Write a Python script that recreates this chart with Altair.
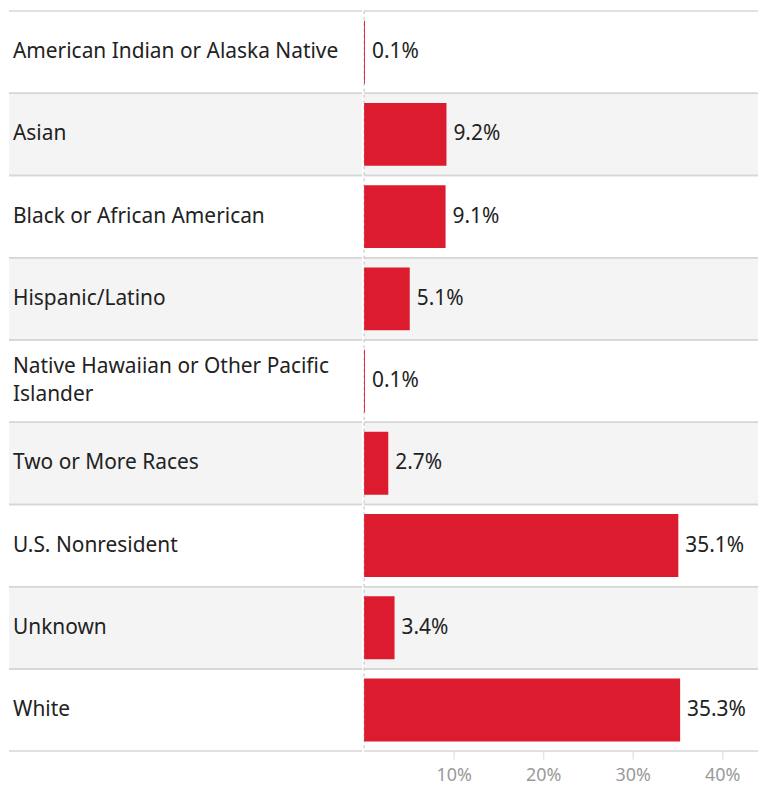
import altair as alt
import pandas as pd

categories = [
    "American Indian or Alaska Native",
    "Asian",
    "Black or African American",
    "Hispanic/Latino",
    "Native Hawaiian or Other Pacific Islander",
    "Two or More Races",
    "U.S. Nonresident",
    "Unknown",
    "White",
]
values = [0.1, 9.2, 9.1, 5.1, 0.1, 2.7, 35.1, 3.4, 35.3]
tick_values = [10, 20, 30, 40]

FONT = "Noto Sans"
LEFT_W = 355
RIGHT_W = 396
H = 744
BAR_RED = "#DC1C2E"
BAND_GRAY = "#F4F4F4"
SEP = "#D6D6D6"
TEXT = "#222222"
LINE_H = 28

df = pd.DataFrame({"category": categories, "value": values})
df["row"] = range(len(df))
df["display"] = df["category"].str.replace("Pacific Islander", "Pacific\nIslander")
df["nlines"] = df["display"].str.count("\n") + 1
df["label"] = df["value"].map(lambda v: f"{v:.1f}%")

ysc = alt.Scale(domain=categories, paddingInner=0, paddingOuter=0)
y_enc = alt.Y("category:N", sort=categories, scale=ysc, axis=None)

base = alt.Chart(df)

band_color = alt.condition("datum.row % 2 == 1", alt.value(BAND_GRAY), alt.value("white"))


def bands(width):
    return base.mark_rect().encode(
        y=y_enc,
        x=alt.value(0),
        x2=alt.value(width),
        color=band_color,
    )


def separators():
    top = base.mark_rule(color=SEP, strokeWidth=1.5).encode(
        y=alt.Y("category:N", sort=categories, scale=ysc, axis=None, bandPosition=0)
    )
    bottom = base.mark_rule(color=SEP, strokeWidth=1.5).encode(
        y=alt.Y("category:N", sort=categories, scale=ysc, axis=None, bandPosition=1)
    )
    return top + bottom


def label_layer(n, dy):
    return base.transform_filter(f"datum.nlines == {n}").mark_text(
        align="left", baseline="middle", font=FONT, fontSize=21, color=TEXT,
        lineBreak="\n", lineHeight=LINE_H, dy=dy,
    ).encode(
        y=y_enc,
        x=alt.value(4),
        text="display:N",
    )


left = alt.layer(
    bands(LEFT_W), separators(), label_layer(1, 0), label_layer(2, -LINE_H / 2)
).properties(width=LEFT_W, height=H)

xsc = alt.Scale(domain=[0, 44], nice=False, zero=True)
x_axis = alt.Axis(
    values=tick_values, format="d", labelExpr="datum.value + '%'", title=None,
    grid=False, domain=False, ticks=True, tickSize=8, tickColor="#E4E4E4", tickWidth=1.5,
    labelColor="#9A9A9A", labelFont=FONT, labelFontSize=18, labelPadding=8,
)

bars = base.mark_bar(color=BAR_RED, height={"band": 0.765}).encode(
    y=y_enc,
    x=alt.X("value:Q", scale=xsc, axis=x_axis),
)

value_text = base.mark_text(
    align="left", baseline="middle", dx=7, font=FONT, fontSize=21, color=TEXT
).encode(
    y=y_enc,
    x=alt.X("value:Q", scale=xsc),
    text="label:N",
)

zero_line = alt.Chart(pd.DataFrame({"z": [0]})).mark_rule(
    color="#BDBDBD", strokeDash=[3, 3], strokeWidth=1
).encode(x=alt.X("z:Q", scale=xsc))

right = alt.layer(bands(RIGHT_W), separators(), zero_line, bars, value_text).properties(
    width=RIGHT_W, height=H
)

chart = (
    alt.hconcat(left, right, spacing=0)
    .properties(padding=0, background="white")
    .configure_view(stroke=None)
)

chart.save("out.html", embed_options={"renderer": "svg", "actions": False})
